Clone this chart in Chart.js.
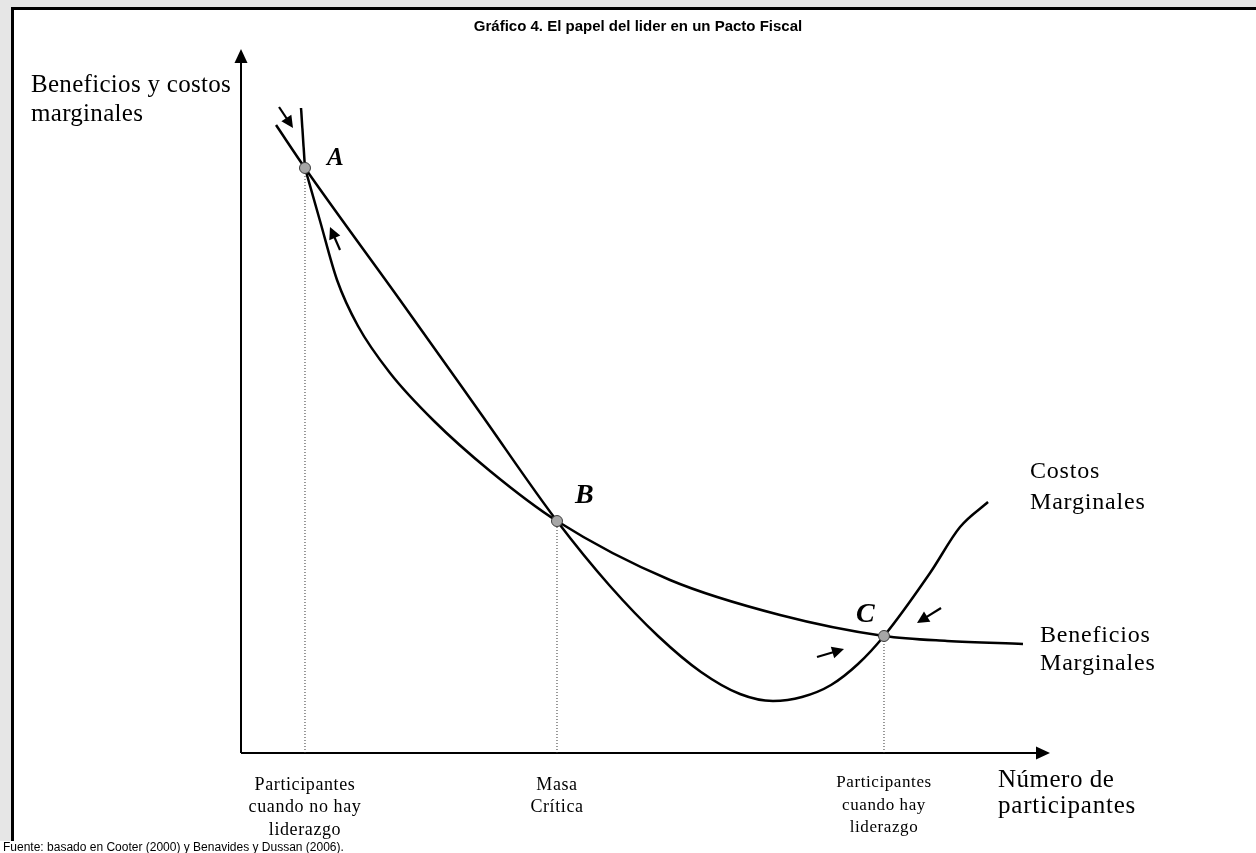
<!DOCTYPE html>
<html>
<head>
<meta charset="utf-8">
<script src="https://cdn.jsdelivr.net/npm/chart.js"></script>
<style>
  body { margin: 0; background: #e6e6e6; overflow: hidden; width: 1256px; height: 853px; }
  #marco { position: absolute; left: 11px; top: 7px; width: 1260px; height: 860px; background: #fff;
           border-left: 3px solid #000; border-top: 3px solid #000; }
  #pie { position: absolute; left: 0; top: 841px; width: 1256px; height: 12px; background: #fff; }
  #grafico { position: absolute; left: 0; top: 0; }
</style>
</head>
<body>
<div id="marco"></div>
<div id="pie"></div>
<canvas id="grafico" width="1256" height="853"></canvas>
<script>
// datos del gráfico (unidades: eje x 0-100, eje y 0-100)
var beneficiosX = [7.42, 7.91, 9.77, 11.87, 14.46, 18.42, 23.86, 30.78, 39.06, 53.03, 66.63, 79.48, 87.27, 96.66];
var beneficiosY = [91.62, 83.10, 75.57, 67.19, 60.65, 53.98, 47.16, 40.06, 32.95, 24.57, 19.60, 16.62, 15.91, 15.48];

var costosX = [4.33, 7.91, 19.65, 29.54, 39.06, 45.61, 51.55, 56.86, 61.68, 65.76, 69.34, 72.93, 76.27, 79.48, 85.17, 88.88, 92.34];
var costosY = [89.20, 83.10, 64.35, 48.37, 32.95, 23.72, 16.62, 11.51, 8.38, 7.39, 7.95, 9.66, 12.64, 16.62, 25.57, 32.10, 35.65];

// puntos de equilibrio A, B, C
var puntosNombre = ['A', 'B', 'C'];
var puntosX = [7.91, 39.06, 79.48];
var puntosY = [83.10, 32.95, 16.62];

// flechas: cola -> punta
var flechaColaX = [4.70, 12.24, 71.20, 86.53];
var flechaColaY = [91.76, 71.45, 13.64, 20.60];
var flechaPuntaX = [6.43, 11.00, 74.54, 83.56];
var flechaPuntaY = [88.78, 74.72, 14.77, 18.47];

// textos
var titulo = 'Gráfico 4. El papel del lider en un Pacto Fiscal';
var tituloEjeY = ['Beneficios y costos', 'marginales'];
var tituloEjeX = ['Número de', 'participantes'];
var etiquetaCostos = ['Costos', 'Marginales'];
var etiquetaBeneficios = ['Beneficios', 'Marginales'];
var etiquetasEjeX = [
    ['Participantes', 'cuando no hay', 'liderazgo'],
    ['Masa', 'Crítica'],
    ['Participantes', 'cuando hay', 'liderazgo']
];
var fuente = 'Fuente: basado en Cooter (2000) y Benavides y Dussan (2006).';

function pares(xs, ys) {
    var r = [];
    for (var i = 0; i < xs.length; i++) r.push({x: xs[i], y: ys[i]});
    return r;
}

// líneas punteadas desde cada punto hasta el eje x
var verticales = [];
for (var i = 0; i < puntosX.length; i++) {
    verticales.push({
        data: [{x: puntosX[i], y: 0}, {x: puntosX[i], y: puntosY[i]}],
        showLine: true, borderColor: '#333', borderWidth: 1, borderDash: [1, 2],
        pointRadius: 0, fill: false, order: 3
    });
}

// la curva de beneficios tiene un quiebre en A: se dibuja en dos tramos
var beneficios = pares(beneficiosX, beneficiosY);
var tramoSuperior = beneficios.slice(0, 2);
var tramoInferior = beneficios.slice(1);

var serif = '"Liberation Serif", "Times New Roman", serif';
var sans = '"Liberation Sans", Arial, sans-serif';

function texto(ctx, s, x, y, font, align, espacio) {
    ctx.font = font;
    ctx.textAlign = align || 'left';
    ctx.letterSpacing = (espacio || 0) + 'px';
    ctx.fillText(s, x, y);
    ctx.letterSpacing = '0px';
}

var dibujoExtra = {
    id: 'dibujoExtra',
    beforeDatasetsDraw: function(chart) {
        var ctx = chart.ctx;
        var sx = chart.scales.x, sy = chart.scales.y;
        var x0 = sx.getPixelForValue(0), y0 = sy.getPixelForValue(0);
        var x1 = sx.getPixelForValue(100), y1 = sy.getPixelForValue(100);
        ctx.save();
        ctx.strokeStyle = '#000';
        ctx.fillStyle = '#000';
        ctx.lineWidth = 2;
        ctx.beginPath();
        ctx.moveTo(x0, y0); ctx.lineTo(x0, y1 + 10);
        ctx.moveTo(x0, y0); ctx.lineTo(x1 - 10, y0);
        ctx.stroke();
        // puntas de los ejes
        ctx.beginPath();
        ctx.moveTo(x0, y1); ctx.lineTo(x0 - 6.5, y1 + 14); ctx.lineTo(x0 + 6.5, y1 + 14); ctx.closePath();
        ctx.fill();
        ctx.beginPath();
        ctx.moveTo(x1, y0); ctx.lineTo(x1 - 14, y0 - 6.5); ctx.lineTo(x1 - 14, y0 + 6.5); ctx.closePath();
        ctx.fill();
        ctx.restore();
    },
    afterDatasetsDraw: function(chart) {
        var ctx = chart.ctx;
        var sx = chart.scales.x, sy = chart.scales.y;
        ctx.save();
        ctx.fillStyle = '#000';
        ctx.strokeStyle = '#000';

        // flechas pequeñas
        for (var i = 0; i < flechaColaX.length; i++) {
            var ax = sx.getPixelForValue(flechaColaX[i]), ay = sy.getPixelForValue(flechaColaY[i]);
            var bx = sx.getPixelForValue(flechaPuntaX[i]), by = sy.getPixelForValue(flechaPuntaY[i]);
            var ang = Math.atan2(by - ay, bx - ax);
            var largo = 12, ancho = 6;
            ctx.lineWidth = 2.2;
            ctx.beginPath();
            ctx.moveTo(ax, ay);
            ctx.lineTo(bx - Math.cos(ang) * largo * 0.8, by - Math.sin(ang) * largo * 0.8);
            ctx.stroke();
            ctx.beginPath();
            ctx.moveTo(bx, by);
            ctx.lineTo(bx - Math.cos(ang) * largo - Math.sin(ang) * ancho, by - Math.sin(ang) * largo + Math.cos(ang) * ancho);
            ctx.lineTo(bx - Math.cos(ang) * largo + Math.sin(ang) * ancho, by - Math.sin(ang) * largo - Math.cos(ang) * ancho);
            ctx.closePath();
            ctx.fill();
        }

        ctx.textBaseline = 'alphabetic';
        // título
        texto(ctx, titulo, 638, 31, 'bold 15px ' + sans, 'center');
        // título eje y
        texto(ctx, tituloEjeY[0], 31, 92, '25px ' + serif, 'left', 0.3);
        texto(ctx, tituloEjeY[1], 31, 121, '25px ' + serif, 'left', 0.3);

        // letras de los puntos
        var px = puntosX.map(function(v) { return sx.getPixelForValue(v); });
        var py = puntosY.map(function(v) { return sy.getPixelForValue(v); });
        texto(ctx, puntosNombre[0], px[0] + 22, py[0] - 3, 'italic bold 25px ' + serif);
        texto(ctx, puntosNombre[1], px[1] + 18, py[1] - 18, 'italic bold 28px ' + serif);
        texto(ctx, puntosNombre[2], px[2] - 28, py[2] - 14, 'italic bold 28px ' + serif);

        // etiquetas de las curvas
        texto(ctx, etiquetaCostos[0], 1030, 478, '24px ' + serif, 'left', 0.8);
        texto(ctx, etiquetaCostos[1], 1030, 509, '24px ' + serif, 'left', 0.8);
        texto(ctx, etiquetaBeneficios[0], 1040, 642, '24px ' + serif, 'left', 0.8);
        texto(ctx, etiquetaBeneficios[1], 1040, 670, '24px ' + serif, 'left', 0.8);

        // título eje x
        texto(ctx, tituloEjeX[0], 998, 787, '25px ' + serif, 'left', 0.5);
        texto(ctx, tituloEjeX[1], 998, 813, '25px ' + serif, 'left', 0.8);

        // etiquetas bajo el eje x
        var base = [[790, 812, 835], [790, 812], [787, 810, 832]];
        var tam = [18, 18, 17];
        for (var k = 0; k < etiquetasEjeX.length; k++) {
            for (var j = 0; j < etiquetasEjeX[k].length; j++) {
                texto(ctx, etiquetasEjeX[k][j], px[k], base[k][j], tam[k] + 'px ' + serif, 'center', 0.6);
            }
        }

        // fuente
        texto(ctx, fuente, 3, 851, '12px ' + sans);
        ctx.restore();
    }
};

var ctx = document.getElementById('grafico').getContext('2d');
var grafico = new Chart(ctx, {
    type: 'scatter',
    data: {
        datasets: verticales.concat([{
            label: 'Beneficios Marginales (tramo superior)',
            data: tramoSuperior,
            showLine: true, borderColor: '#000', borderWidth: 2.5,
            pointRadius: 0, fill: false, order: 2
        }, {
            label: 'Beneficios Marginales',
            data: tramoInferior,
            showLine: true, borderColor: '#000', borderWidth: 2.5,
            pointRadius: 0, cubicInterpolationMode: 'monotone', fill: false, order: 2
        }, {
            label: 'Costos Marginales',
            data: pares(costosX, costosY),
            showLine: true, borderColor: '#000', borderWidth: 2.5,
            pointRadius: 0, cubicInterpolationMode: 'monotone', fill: false, order: 2
        }, {
            label: 'Puntos',
            data: pares(puntosX, puntosY),
            showLine: false, pointRadius: 5.5,
            backgroundColor: '#a6a6a6', borderColor: '#3a3a3a', borderWidth: 1, order: 0
        }])
    },
    options: {
        responsive: false,
        animation: false,
        layout: { autoPadding: false, padding: { left: 241, right: 206, top: 49, bottom: 100 } },
        plugins: { legend: { display: false }, tooltip: { enabled: false }, title: { display: false } },
        scales: {
            x: { type: 'linear', min: 0, max: 100, display: false },
            y: { type: 'linear', min: 0, max: 100, display: false }
        }
    },
    plugins: [dibujoExtra]
});
</script>
</body>
</html>
